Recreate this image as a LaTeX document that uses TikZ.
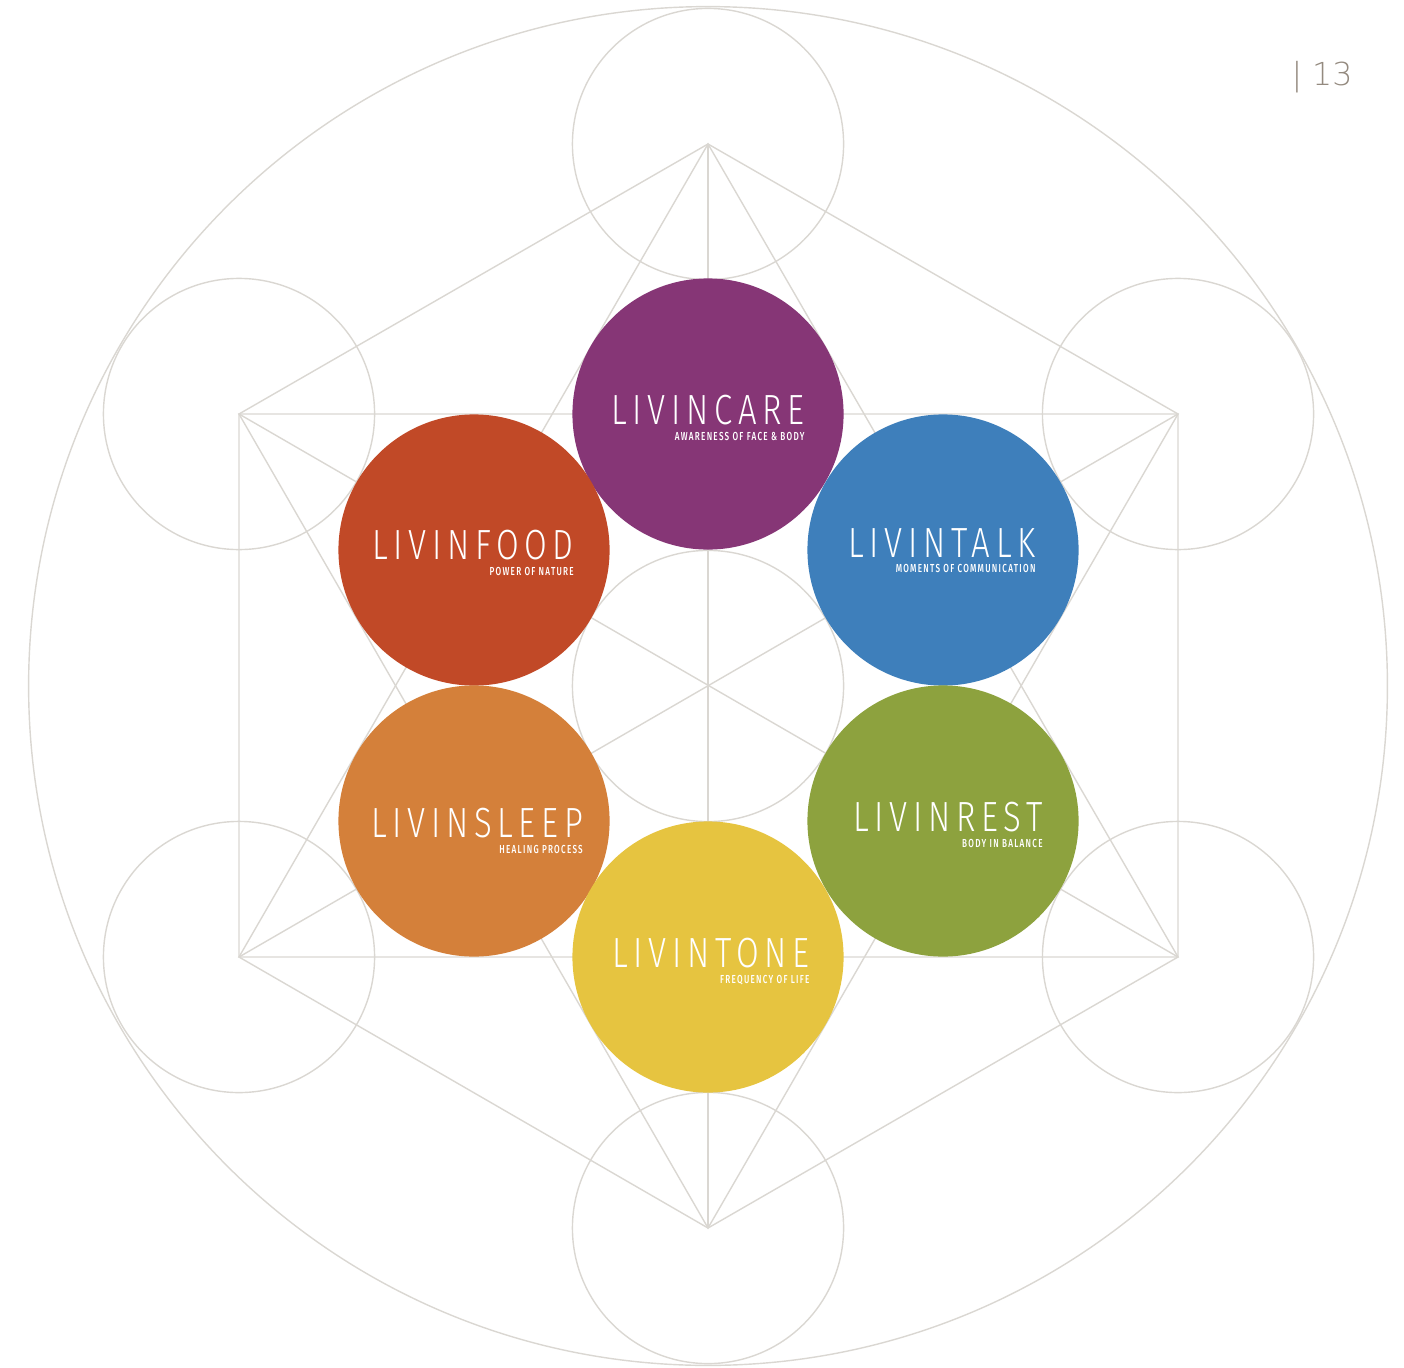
\documentclass[tikz,border=0pt]{standalone}
\usepackage{fontspec}
\usetikzlibrary{positioning}

\newfontfamily\livtitle{Fira Sans Light}[FakeStretch=0.78,LetterSpace=13.5]
\newfontfamily\livsub{Fira Sans Medium}[FakeStretch=0.7,LetterSpace=11]
\newfontfamily\pagefont{DejaVu Sans ExtraLight}

\definecolor{gridgrey}{RGB}{218,215,210}
\definecolor{pagegrey}{RGB}{148,138,127}
\definecolor{carepurple}{RGB}{134,54,118}
\definecolor{foodred}{RGB}{193,73,39}
\definecolor{talkblue}{RGB}{62,127,187}
\definecolor{sleeporange}{RGB}{212,128,58}
\definecolor{restgreen}{RGB}{141,162,62}
\definecolor{toneyellow}{RGB}{230,196,64}

\tikzset{
    grid line/.style={draw=gridgrey, line width=0.4pt},
    grid circle/.style={circle, draw=gridgrey, line width=0.4pt, minimum size=2.71cm, inner sep=0pt},
    livin circle/.style={circle, fill=#1, minimum size=2.71cm, inner sep=0pt},
    livin title/.style={text=white, inner sep=0pt, font=\livtitle\fontsize{12}{12}\selectfont},
    livin sub/.style={text=white, inner sep=0pt, font=\livsub\fontsize{3.3}{4}\selectfont},
}

\begin{document}
\begin{tikzpicture}[x=0.01cm, y=-0.01cm]
    \useasboundingbox (0,0) rectangle (1404,1367);

    \node[grid circle, minimum size=13.58cm] (Outer) at (708,686) {};

    \node[grid circle] (OuterTop) at (708,144) {};
    \node[grid circle] (OuterUpLeft) at (239,414) {};
    \node[grid circle] (OuterUpRight) at (1178,414) {};
    \node[grid circle] (OuterLowLeft) at (239,957) {};
    \node[grid circle] (OuterLowRight) at (1178,957) {};
    \node[grid circle] (OuterBottom) at (708,1228) {};
    \node[grid circle] (Middle) at (708,686) {};

    % hexagon
    \draw[grid line] (OuterTop.center) -- (OuterUpLeft.center) -- (OuterLowLeft.center) -- (OuterBottom.center)
        -- (OuterLowRight.center) -- (OuterUpRight.center) -- cycle;
    % two triangles
    \draw[grid line] (OuterTop.center) -- (OuterLowLeft.center) -- (OuterLowRight.center) -- cycle;
    \draw[grid line] (OuterBottom.center) -- (OuterUpLeft.center) -- (OuterUpRight.center) -- cycle;
    % diagonals
    \draw[grid line] (OuterTop.center) -- (OuterBottom.center);
    \draw[grid line] (OuterUpLeft.center) -- (OuterLowRight.center);
    \draw[grid line] (OuterUpRight.center) -- (OuterLowLeft.center);

    \node[livin circle=carepurple] (LivinCare) at (708,414) {};
    \node[livin circle=foodred] (LivinFood) at (474,550) {};
    \node[livin circle=talkblue] (LivinTalk) at (943,550) {};
    \node[livin circle=sleeporange] (LivinSleep) at (474,821) {};
    \node[livin circle=restgreen] (LivinRest) at (943,821) {};
    \node[livin circle=toneyellow] (LivinTone) at (708,957) {};

    \node[livin title] (CareTitle) at (708,410) {LIVINCARE};
    \node[livin sub, below left=1.6pt and 0pt of CareTitle.south east] (CareSub) {AWARENESS OF FACE \& BODY};

    \node[livin title] (FoodTitle) at (473,545) {LIVINFOOD};
    \node[livin sub, below left=1.6pt and 0pt of FoodTitle.south east] (FoodSub) {POWER OF NATURE};

    \node[livin title] (TalkTitle) at (942,543) {LIVINTALK};
    \node[livin sub, below left=1.6pt and 0pt of TalkTitle.south east] (TalkSub) {MOMENTS OF COMMUNICATION};

    \node[livin title] (SleepTitle) at (477,823) {LIVINSLEEP};
    \node[livin sub, below left=1.6pt and 0pt of SleepTitle.south east] (SleepSub) {HEALING PROCESS};

    \node[livin title] (RestTitle) at (948,817) {LIVINREST};
    \node[livin sub, below left=1.6pt and 0pt of RestTitle.south east] (RestSub) {BODY IN BALANCE};

    \node[livin title] (ToneTitle) at (711,953) {LIVINTONE};
    \node[livin sub, below left=1.6pt and 0pt of ToneTitle.south east] (ToneSub) {FREQUENCY OF LIFE};

    \node[text=pagegrey, inner sep=0pt, font=\pagefont\fontsize{9}{10}\selectfont] (PageNo) at (1322,77) {| 13};
\end{tikzpicture}
\end{document}
